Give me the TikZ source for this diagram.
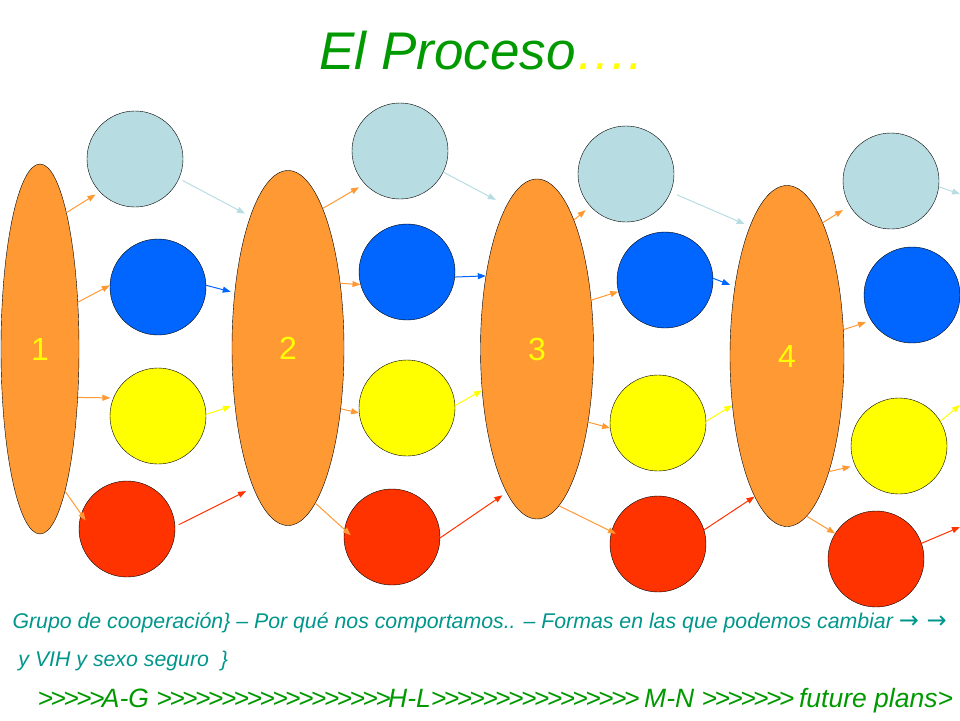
\documentclass[tikz,border=0pt]{standalone}
\usepackage{fontspec}
\setmainfont{Liberation Sans}
\newfontfamily\symfont{DejaVu Sans}
\usetikzlibrary{shapes.geometric,arrows.meta}

\definecolor{sorange}{RGB}{255,153,51}
\definecolor{slblue}{RGB}{183,221,227}
\definecolor{sblue}{RGB}{0,102,255}
\definecolor{syellow}{RGB}{255,255,0}
\definecolor{sred}{RGB}{255,51,0}
\definecolor{tgreen}{RGB}{0,153,0}
\definecolor{tteal}{RGB}{0,150,140}

\tikzset{
	stage/.style={ellipse, draw=black, fill=sorange, text=syellow, inner sep=0pt, font=\fontsize{32}{36}\selectfont},
	ball/.style={circle, draw=black, fill=#1, minimum size=96pt, inner sep=0pt},
	ar/.style={draw=#1, line width=1pt, -{Triangle[length=8pt,width=6pt]}}
}
\newcommand\chevs[1]{\foreach \n in {1,...,#1}{>\kern-2.6pt}}

\begin{document}
\begin{tikzpicture}[x=1pt,y=-1pt]
	\useasboundingbox (0,0) rectangle (960,720);
	\node[anchor=base west, font=\fontsize{53}{60}\selectfont\itshape] (title) at (316,69) {\color{tgreen}El Proceso\color{syellow}….};
	
	\node[stage, minimum width=78pt, minimum height=370pt]  (p1) at (40,349)  {1};
	\node[stage, minimum width=112pt, minimum height=355pt] (p2) at (288,348) {2};
	\node[stage, minimum width=113pt, minimum height=340pt] (p3) at (537,349) {3};
	\node[stage, minimum width=114pt, minimum height=341pt] (p4) at (787,356) {4};
	
	\node[ball=slblue]  (lb1) at (135,159) {};
	\node[ball=sblue]   (bl1) at (158,287) {};
	\node[ball=syellow] (ye1) at (158,416) {};
	\node[ball=sred]    (rd1) at (127,529) {};
	
	\node[ball=slblue]  (lb2) at (400,151) {};
	\node[ball=sblue]   (bl2) at (407,272) {};
	\node[ball=syellow] (ye2) at (407,408) {};
	\node[ball=sred]    (rd2) at (392,537) {};
	
	\node[ball=slblue]  (lb3) at (626,174) {};
	\node[ball=sblue]   (bl3) at (665,280) {};
	\node[ball=syellow] (ye3) at (658,423) {};
	\node[ball=sred]    (rd3) at (658,544) {};
	
	\node[ball=slblue]  (lb4) at (891,181) {};
	\node[ball=sblue]   (bl4) at (912,295) {};
	\node[ball=syellow] (ye4) at (899,446) {};
	\node[ball=sred]    (rd4) at (876,559) {};
	
	\coordinate (o1) at (960,194);
	\coordinate (o2) at (960,405);
	\coordinate (o3) at (960,527);
	
	\draw[ar=sorange, shorten >=5pt]    (p1.79)  -- (lb1.223);
	\draw[ar=sorange]                   (p1.51)  -- (bl1.178);
	\draw[ar=sorange, shorten >=3pt]    (p1.308) -- (ye1.158);
	\draw[ar=sorange, shorten >=-7.7pt] (p1.280) -- (rd1.162);
	
	\draw[ar=slblue, shorten <=4pt, shorten >=6pt] (lb1.336) -- (p2.106);
	\draw[ar=sblue, shorten >=4pt]                 (bl1.2)   -- (p2.134);
	\draw[ar=syellow, shorten >=4pt]               (ye1.2)   -- (p2.227);
	\draw[ar=sred, shorten <=4pt, shorten >=8pt]   (rd1.3)   -- (p2.256);
	
	\draw[ar=sorange, shorten >=6.7pt]  (p2.76)  -- (lb2.223);
	\draw[ar=sorange]                   (p2.51)  -- (bl2.195);
	\draw[ar=sorange]                   (p2.311) -- (ye2.186);
	\draw[ar=sorange, shorten >=-8.6pt] (p2.280) -- (rd2.171);
	
	\draw[ar=slblue, shorten >=12pt] (lb2.334) -- (p3.102);
	\draw[ar=sblue]                  (bl2.354) -- (p3.125);
	\draw[ar=syellow]                (ye2.3)   -- (p3.217);
	\draw[ar=sred, shorten >=5pt]    (rd2.359) -- (p3.258);
	
	\draw[ar=sorange, shorten >=6pt]  (p3.74)  -- (lb3.222);
	\draw[ar=sorange]                 (p3.42)  -- (bl3.194);
	\draw[ar=sorange]                 (p3.305) -- (ye3.186);
	\draw[ar=sorange, shorten >=-5pt] (p3.278) -- (rd3.165);
	
	\draw[ar=slblue, shorten <=7pt, shorten >=5.6pt] (lb3.338) -- (p4.106);
	\draw[ar=sblue, shorten >=5pt]                   (bl3.2)   -- (p4.127);
	\draw[ar=syellow]                                (ye3.2)   -- (p4.222);
	\draw[ar=sred]                                   (rd3.17)  -- (p4.257);
	
	\draw[ar=sorange, shorten >=8pt]   (p4.75)  -- (lb4.211);
	\draw[ar=sorange, shorten >=5.5pt] (p4.25)  -- (bl4.212);
	\draw[ar=sorange, shorten >=4.4pt] (p4.290) -- (ye4.204);
	\draw[ar=sorange]                  (p4.277) -- (rd4.148);
	
	\draw[ar=slblue]  (lb4.353) -- (o1);
	\draw[ar=syellow] (ye4.31)  -- (o2);
	\draw[ar=sred]    (rd4.19)  -- (o3);
	
	\node[anchor=base west, text=tteal, font=\fontsize{21.3}{25}\selectfont\itshape] (l1) at (9,628)
		{Grupo de cooperación\} – Por qué nos comportamos.. – Formas en las que podemos cambiar {\symfont\upshape\fontsize{24}{25}\selectfont → →}};
	\node[anchor=base west, text=tteal, font=\fontsize{21.3}{25}\selectfont\itshape] (l2) at (9,666)
		{\ y VIH y sexo seguro \ \}};
	\node[anchor=base west, text=tgreen, font=\fontsize{26.5}{30}\selectfont\itshape] (l3) at (34,707)
		{\chevs{5}A-G \chevs{18}H-L\chevs{16} M-N \chevs{7} future plans>};
\end{tikzpicture}
\end{document}
